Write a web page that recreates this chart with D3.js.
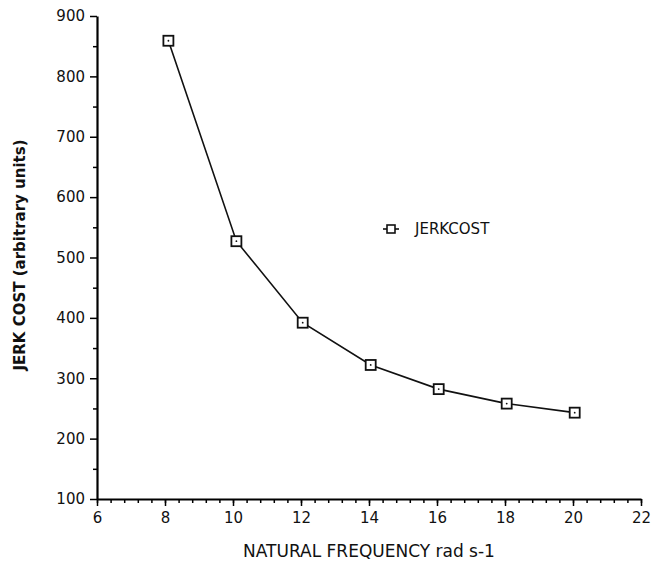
<!DOCTYPE html>
<html>
<head>
<meta charset="utf-8">
<script src="https://cdn.jsdelivr.net/npm/d3@7"></script>
<style>
  body { margin: 0; background: #fff; }
  text { font-family: "DejaVu Sans", sans-serif; fill: #111; }
</style>
</head>
<body>
<div id="chart"></div>
<script>
// data
const freq = [8.1, 10.1, 12.05, 14.05, 16.05, 18.05, 20.05];
const jerkCost = [859, 527, 392, 322, 282, 258, 243];
const xTicks = [6, 8, 10, 12, 14, 16, 18, 20, 22];
const yTicks = [100, 200, 300, 400, 500, 600, 700, 800, 900];
const seriesName = "JERKCOST";

const width = 660, height = 570;
const margin = { top: 16, left: 97, right: 19, bottom: 71 };

const svg = d3.select("#chart").append("svg")
  .attr("width", width)
  .attr("height", height);

const x = d3.scaleLinear().domain([6, 22]).range([margin.left, width - margin.right]);
const y = d3.scaleLinear().domain([100, 900]).range([height - margin.bottom, margin.top]);

// minor ticks first
svg.append("g")
  .attr("transform", `translate(0, ${y(100)})`)
  .call(d3.axisBottom(x).tickValues(d3.range(6, 22.01, 0.4)).tickSize(4).tickFormat(""))
  .call(g => g.select(".domain").remove())
  .selectAll("line").attr("stroke-width", 1.5);

svg.append("g")
  .attr("transform", `translate(${x(6)}, 0)`)
  .call(d3.axisLeft(y).tickValues(d3.range(150, 900, 100)).tickSize(4).tickFormat(""))
  .call(g => g.select(".domain").remove())
  .selectAll("line").attr("stroke-width", 1.5);

const xAxis = svg.append("g")
  .attr("transform", `translate(0, ${y(100)})`)
  .call(d3.axisBottom(x).tickValues(xTicks).tickSize(7).tickPadding(6).tickSizeOuter(0))
xAxis.select(".domain").attr("stroke-width", 2.2);
xAxis.selectAll("line").attr("stroke-width", 1.5);
xAxis.selectAll("text").attr("font-size", 15).attr("fill", "#111");

const yAxis = svg.append("g")
  .attr("transform", `translate(${x(6)}, 0)`)
  .call(d3.axisLeft(y).tickValues(yTicks).tickSize(7).tickPadding(5).tickSizeOuter(0))
yAxis.select(".domain").attr("stroke-width", 2.2);
yAxis.selectAll("line").attr("stroke-width", 1.5);
yAxis.selectAll("text").attr("font-size", 15).attr("fill", "#111");

// axis titles
svg.append("text")
  .attr("x", 369)
  .attr("y", 557)
  .attr("text-anchor", "middle")
  .attr("font-size", 17)
  .text("NATURAL FREQUENCY rad s-1");

svg.append("text")
  .attr("transform", `translate(25, 255) rotate(-90)`)
  .attr("text-anchor", "middle")
  .attr("font-size", 15)
  .attr("font-weight", "bold")
  .text("JERK COST (arbitrary units)");

const pts = freq.map((f, i) => ({ f: f, v: jerkCost[i] }));

svg.append("path")
  .datum(pts)
  .attr("fill", "none")
  .attr("stroke", "#111")
  .attr("stroke-width", 1.6)
  .attr("d", d3.line().x(d => x(d.f)).y(d => y(d.v)));

const markers = svg.selectAll(".pt")
  .data(pts)
  .join("g")
  .attr("transform", d => `translate(${x(d.f)}, ${y(d.v)})`);

markers.append("rect")
  .attr("x", -5).attr("y", -5)
  .attr("width", 10).attr("height", 10)
  .attr("fill", "#fff")
  .attr("stroke", "#111")
  .attr("stroke-width", 1.8);

markers.append("circle")
  .attr("r", 0.9)
  .attr("fill", "#111");

// legend
const legend = svg.append("g").attr("transform", "translate(391, 229)");
legend.append("line")
  .attr("x1", -8).attr("x2", 8)
  .attr("stroke", "#111").attr("stroke-width", 1.6);
legend.append("rect")
  .attr("x", -4).attr("y", -4)
  .attr("width", 8).attr("height", 8)
  .attr("fill", "#fff")
  .attr("stroke", "#111")
  .attr("stroke-width", 1.6);
legend.append("text")
  .attr("x", 24)
  .attr("y", 5)
  .attr("font-size", 15)
  .text(seriesName);
</script>
</body>
</html>
